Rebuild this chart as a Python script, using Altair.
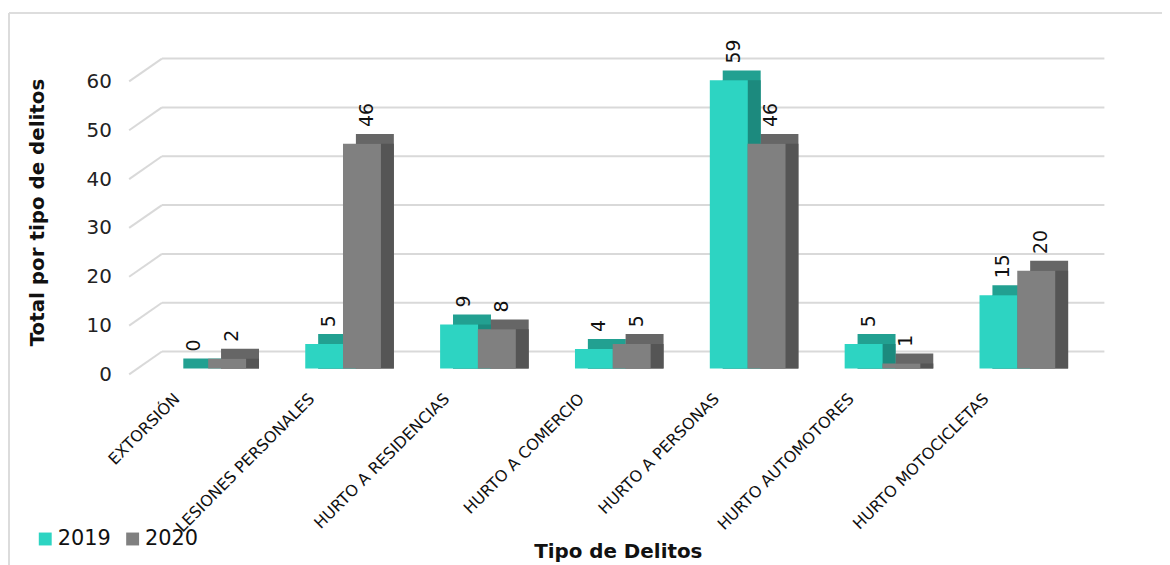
import altair as alt
import pandas as pd

categorias = ["EXTORSIÓN", "LESIONES PERSONALES", "HURTO A RESIDENCIAS",
              "HURTO A COMERCIO", "HURTO A PERSONAS", "HURTO AUTOMOTORES",
              "HURTO MOTOCICLETAS"]
valores_2019 = [0, 5, 9, 4, 59, 5, 15]
valores_2020 = [2, 46, 8, 5, 46, 1, 20]
anios = ["2019", "2020"]
ticks_y = [0, 10, 20, 30, 40, 50, 60]

color_frente = ["#2DD4C2", "#808080"]
color_techo = ["#22A091", "#666666"]
color_lado = ["#1C8A7E", "#555555"]

rows = []
for c, a, b in zip(categorias, valores_2019, valores_2020):
    for yr, v in zip(anios, [a, b]):
        rows.append({"cat": c, "year": yr, "val": v})
df = pd.DataFrame(rows)
grid_df = pd.DataFrame({"t": ticks_y})

FONT = "DejaVu Sans"
W, H = 974, 295
HALF = 19      # half of a bar's width in px (bar = half a band)
DEPTH_X = 13   # 3D depth, px
DEPTH_Y = 10

yscale = alt.Scale(domain=[0, 60], nice=False)
xscale = alt.Scale(paddingInner=0.437, paddingOuter=0.305)
xaxis = alt.Axis(labelAngle=-45, labelFontSize=16, labelFont=FONT,
                 labelColor="#111", labelAlign="right",
                 labelBaseline="top", labelPadding=22,
                 labelOffset=-37, ticks=False, domain=False,
                 title="Tipo de Delitos", titleFont=FONT,
                 titleFontSize=20, titleFontWeight="bold",
                 titleColor="#111", titleX=492, titleY=190,
                 titleAlign="center", titleBaseline="alphabetic",
                 labelLimit=300)
xenc = alt.X("cat:N", sort=categorias, scale=xscale, axis=xaxis)
bw = alt.RelativeBandSize(0.5)

frame_top = alt.Chart(grid_df).mark_rule(color="#dcdcdc", strokeWidth=1.5).encode(
    x=alt.value(-121), x2=alt.value(1060), y=alt.value(-63)
)
frame_left = alt.Chart(grid_df).mark_rule(color="#dcdcdc", strokeWidth=2).encode(
    x=alt.value(-121), y=alt.value(-63), y2=alt.value(520)
)

grid_back = alt.Chart(grid_df).mark_rule(
    color="#d9d9d9", strokeWidth=2, yOffset=-17, y2Offset=-17
).encode(
    y=alt.Y("t:Q", scale=yscale,
            axis=alt.Axis(values=ticks_y, labelFontSize=20, labelFont=FONT,
                          labelColor="#222", labelPadding=18, labelOffset=6,
                          ticks=False, domain=False, grid=False,
                          title="Total por tipo de delitos", titleFont=FONT,
                          titleFontSize=20, titleFontWeight="bold",
                          titleColor="#111", titleX=-86, titleY=H / 2 - 10,
                          titleBaseline="alphabetic")),
    y2=alt.Y2("t:Q"),
    x=alt.value(33), x2=alt.value(982),
)

grid_diag = alt.Chart(grid_df).mark_rule(
    color="#d9d9d9", strokeWidth=2, yOffset=6, y2Offset=-17
).encode(
    y=alt.Y("t:Q", scale=yscale),
    y2=alt.Y2("t:Q"),
    x=alt.value(0), x2=alt.value(33),
)

layers_techo, layers_lado, layers_frente, layers_text = [], [], [], []
for i, yr in enumerate(anios):
    shift = -HALF if i == 0 else HALF
    base = alt.Chart(df).transform_filter(alt.datum.year == yr)
    layers_techo.append(base.mark_bar(
        width=bw, xOffset=shift + DEPTH_X, yOffset=-DEPTH_Y,
        color=color_techo[i]
    ).encode(x=xenc, y=alt.Y("val:Q", scale=yscale), y2=alt.datum(0)))
    layers_lado.append(base.mark_bar(
        width=bw, xOffset=shift + DEPTH_X, color=color_lado[i]
    ).encode(x=xenc, y=alt.Y("val:Q", scale=yscale), y2=alt.datum(0)))
    layers_frente.append(base.mark_bar(width=bw, xOffset=shift).encode(
        x=xenc, y=alt.Y("val:Q", scale=yscale),
        color=alt.Color("year:N", sort=anios,
                        scale=alt.Scale(domain=anios, range=color_frente),
                        legend=alt.Legend(title=None, orient="none",
                                          direction="horizontal",
                                          legendX=-95, legendY=456,
                                          symbolType="square", symbolSize=169,
                                          symbolStrokeWidth=0,
                                          labelFontSize=21, labelFont=FONT,
                                          labelColor="#111", columnPadding=11,
                                          labelOffset=2)),
    ))
    layers_text.append(base.mark_text(
        angle=270, align="left", baseline="middle", fontSize=19, font=FONT,
        color="#111", xOffset=shift + 5, yOffset=-17
    ).encode(x=xenc, y=alt.Y("val:Q", scale=yscale), text=alt.Text("val:Q")))

chart = alt.layer(
    frame_top, frame_left, grid_back, grid_diag,
    *layers_techo, *layers_lado, *layers_frente, *layers_text
).properties(
    width=W, height=H,
    autosize=alt.AutoSizeParams(type="none"),
    padding={"left": 122, "top": 66, "right": 66, "bottom": 196},
).configure_view(stroke=None)

chart.save("out.html", embed_options={"renderer": "svg", "actions": False})
